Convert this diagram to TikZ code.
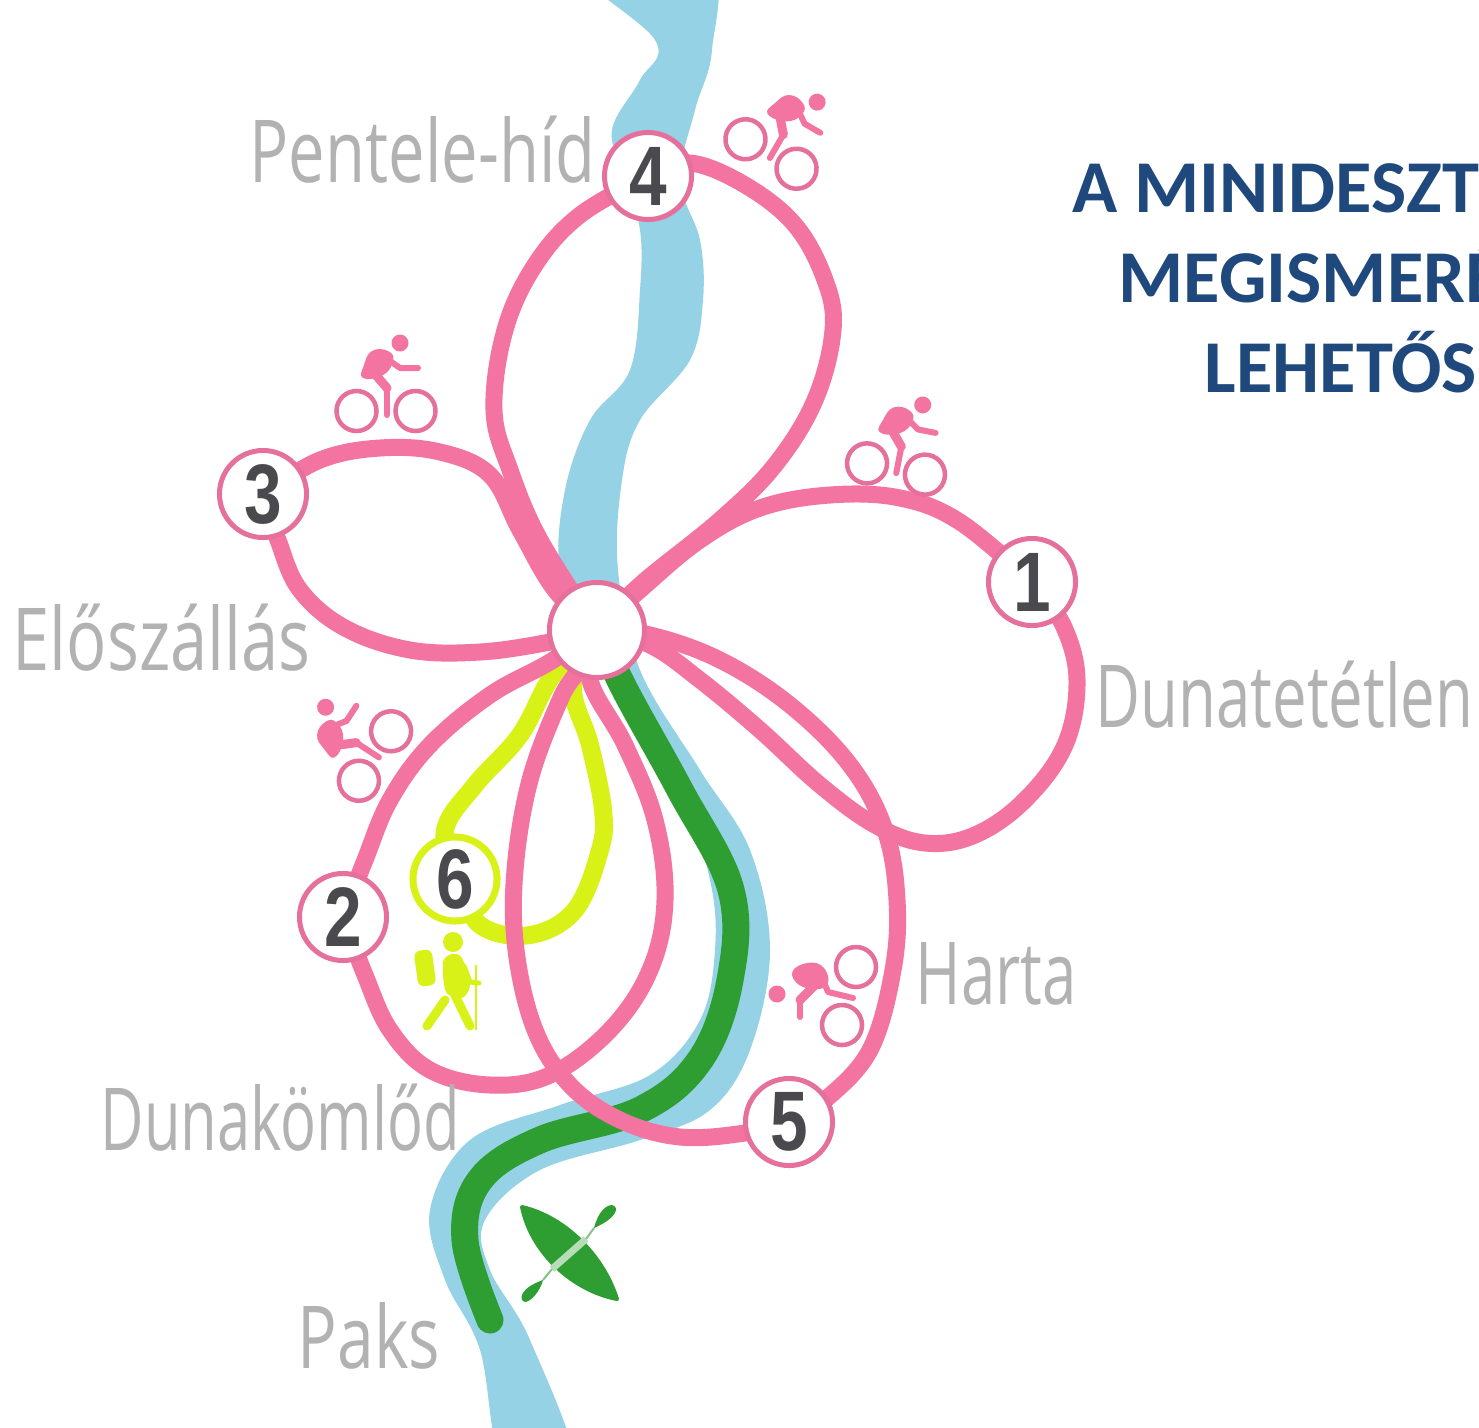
\documentclass[tikz,border=0pt]{standalone}
\usepackage{fontspec}
\setmainfont{Open Sans}
\newfontfamily\labfont{Open Sans}
\newfontfamily\digfont[FakeStretch=0.8]{Liberation Sans}
\newfontfamily\titlefont{Carlito}
\pgfdeclarelayer{riverl}\pgfdeclarelayer{greenl}\pgfdeclarelayer{yellowl}\pgfdeclarelayer{pinkl}
\pgfsetlayers{riverl,greenl,yellowl,pinkl,main}
\def\pxu{0.28453pt}
\definecolor{rpink}{RGB}{243,116,160}
\definecolor{ringpink}{RGB}{228,112,155}
\definecolor{rblue}{RGB}{150,210,230}
\definecolor{rgreen}{RGB}{46,158,50}
\definecolor{ryellow}{RGB}{216,242,24}
\definecolor{lblgray}{RGB}{178,178,178}
\definecolor{digitgray}{RGB}{74,74,78}
\definecolor{titleblue}{RGB}{31,73,125}
\tikzset{
  petal/.style={draw=rpink,line width=17*\pxu,line cap=round,line join=round},
  yline/.style={draw=ryellow,line width=18*\pxu,line cap=round},
  kayakline/.style={draw=rgreen,line width=27*\pxu,line cap=round,line join=round},
  stop/.style={circle,fill=white,draw=ringpink,line width=5*\pxu,minimum size=87*\pxu,inner sep=0pt,
     font=\digfont\bfseries\fontsize{24}{24}\selectfont,text=digitgray},
  ystop/.style={stop,draw=ryellow,line width=7*\pxu,minimum size=84*\pxu},
  hubst/.style={circle,fill=white,draw=ringpink,line width=5*\pxu,minimum size=95*\pxu,inner sep=0pt},
  place/.style={anchor=base west,inner sep=0pt,text=lblgray,font=\labfont\fontsize{24.7}{24.7}\selectfont\addfontfeature{FakeStretch=#1}},
  headline/.style={anchor=base west,inner sep=0pt,text=titleblue,font=\titlefont\bfseries\fontsize{21.2}{21.2}\selectfont},
  wheel/.style={draw=ringpink,line width=4.5*\pxu},
  limb/.style={draw=rpink,line width=6*\pxu,line cap=round,line join=round},
  thigh/.style={draw=rpink,line width=9*\pxu,line cap=round,line join=round},
  curve/.style={smooth,tension=.62},
  hikerlimb/.style={draw=ryellow,line width=9*\pxu,line cap=round},
}
\newcommand{\cyclistat}[3]{%
  \begin{scope}[shift={(#1,#2)},rotate=#3]
    \draw[wheel] (-29.5,0) circle[radius=20];
    \draw[wheel] (29.5,0) circle[radius=20];
    \fill[rpink] (14,-68) circle[radius=8.5];
    \fill[rpink] plot[smooth cycle,tension=.8] coordinates {(-23,-33) (-22,-46) (-14,-60) (2,-60) (7,-50) (-3,-36)};
    \draw[thigh] (-12,-38) -- (1,-23);
    \draw[limb] (1,-23) -- (1,4);
    \draw[limb] (4,-50) -- (14,-43) -- (32,-43);
  \end{scope}}
\begin{document}
\begin{tikzpicture}[x=0.01cm,y=-0.01cm]
\useasboundingbox (0,0) rectangle (1479,1427);
\clip (0,0) rectangle (1479,1427);
% stops
\node[hubst] (hub) at (597,630) {};
\node[stop] (n1) at (1032,582) {1};
\node[stop] (n2) at (343,917) {2};
\node[stop] (n3) at (263,494) {3};
\node[stop] (n4) at (648,176) {4};
\node[stop] (n5) at (789,1122) {5};
\node[ystop] (n6) at (455,879) {6};
% river
\begin{pgfonlayer}{riverl}
\fill[white] (0,0) rectangle (1479,1427);
\fill[rblue] plot[smooth cycle,tension=.6] coordinates {
  (570,-40) (655,40) (640,80) (612,130) (625,180) (640,230) (640,290) (630,370) (590,420) (565,490) (560,570)
  (590,640) (615,680) (680,790) (710,880) (715,950) (700,1020) (650,1075) (560,1105) (470,1140) (430,1210) (445,1280) (480,1350) (505,1470)
  (575,1470) (530,1340) (490,1270) (485,1220) (540,1170) (640,1140) (710,1110) (750,1050) (770,950) (750,850) (700,770) (640,670)
  (618,570) (622,480) (640,420) (690,360) (703,300) (700,240) (680,180) (695,110) (712,50) (706,-40)};
\end{pgfonlayer}
% kayak route
\begin{pgfonlayer}{greenl}
\draw[kayakline] plot[curve] coordinates {(hub.center) (625,690) (680,790) (731,890) (730,980) (700,1060) (640,1110) (540,1140) (480,1180) (465,1240) (490,1320)};
\end{pgfonlayer}
% hiking loop
\begin{pgfonlayer}{yellowl}
\draw[yline] plot[curve] coordinates {(hub.center) (553,675) (520,735) (475,785) (445,830) (n6.center)};
\draw[yline] plot[curve] coordinates {(n6.center) (480,925) (530,935) (575,910) (600,850) (603,810) (590,745) (573,685) (hub.center)};
\end{pgfonlayer}
% petals
\begin{pgfonlayer}{pinkl}
\draw[petal] plot[curve] coordinates {(hub.center) (540,540) (510,470) (494,410) (505,330) (535,265) (580,215) (n4.center)};
\draw[petal] plot[curve] coordinates {(n4.center) (690,163) (745,185) (795,225) (825,280) (833,330) (815,400) (775,465) (720,520) (640,585) (hub.center)};
\draw[petal] plot[curve] coordinates {(hub.center) (555,590) (520,530) (490,475) (440,452) (380,448) (320,460) (n3.center)};
\draw[petal] plot[curve] coordinates {(n3.center) (278,540) (300,590) (345,628) (410,650) (480,652) (550,642) (hub.center)};
\draw[petal] plot[curve] coordinates {(hub.center) (640,590) (700,540) (760,508) (830,495) (900,498) (960,522) (n1.center)};
\draw[petal] plot[curve] coordinates {(n1.center) (1063,625) (1077,680) (1065,745) (1025,800) (975,835) (925,843) (875,825) (820,785) (760,730) (700,680) (650,645) (hub.center)};
\draw[petal] plot[curve] coordinates {(hub.center) (650,635) (720,660) (790,705) (850,765) (885,830) (897,900) (893,970) (870,1050) (825,1100) (n5.center)};
\draw[petal] plot[curve] coordinates {(n5.center) (745,1133) (680,1137) (620,1120) (570,1085) (535,1030) (516,950) (515,870) (530,780) (560,700) (578,670) (hub.center)};
\draw[petal] plot[curve] coordinates {(hub.center) (550,662) (490,695) (430,745) (390,800) (365,860) (n2.center)};
\draw[petal] plot[curve] coordinates {(n2.center) (365,975) (390,1030) (430,1070) (490,1085) (550,1075) (610,1030) (650,970) (665,900) (655,820) (625,745) (590,680) (hub.center)};
\end{pgfonlayer}
% place names
\node[place=0.75] (pentele) at (249,182) {Pentele-híd};
\node[place=0.77] (eloszallas) at (12,670) {Előszállás};
\node[place=0.71] (dunatetetlen) at (1095,727) {Dunatetétlen};
\node[place=0.71] (harta) at (915,1004) {Harta};
\node[place=0.687] (dunakomlod) at (100,1150) {Dunakömlőd};
\node[place=0.76] (paks) at (297,1368) {Paks};
% heading (cut by the picture edge)
\node[headline] (t1) at (1072,212) {A MINIDESZT};
\node[headline] (t2) at (1118,302) {MEGISMERÉ};
\node[headline] (t3) at (1204,392) {LEHETŐS};
% cyclists
\cyclistat{771}{154}{-30}
\cyclistat{386}{411}{0}
\cyclistat{896}{469}{-11}
\cyclistat{375}{756}{57}
\draw[wheel] (856,967) circle[radius=20];
\draw[wheel] (842,1025) circle[radius=20];
\fill[rpink] (777,994) circle[radius=8.5];
\fill[rpink] plot[smooth cycle,tension=.8] coordinates {(792,975) (803,964) (822,966) (827,985) (806,988)};
\draw[thigh] (815,985) -- (800,1000);
\draw[limb] (800,1000) -- (800,1017);
\draw[limb] (821,975) -- (828,992) -- (853,998);
% hiker
\fill[ryellow] (453,942) circle[radius=10];
\fill[ryellow,rounded corners=1.8pt,rotate around={8:(425,968)}] (416,950) rectangle (434,986);
\fill[ryellow] plot[smooth cycle,tension=.5] coordinates {(443,962) (452,954) (462,958) (470,985) (462,998) (446,992)};
\draw[hikerlimb] (450,985) -- (470,1026);
\draw[hikerlimb] (445,1000) -- (427,1026);
\draw[ryellow,line width=5*\pxu,line cap=round] (464,966) -- (470,982) -- (479,983);
\draw[ryellow,line width=2.5*\pxu] (476,965) -- (476,1030);
% kayak
\filldraw[rgreen,line width=4*\pxu,line join=round] (522,1207) .. controls (565,1217) and (603,1255) .. (617,1299) .. controls (575,1291) and (532,1255) .. (522,1207) -- cycle;
\draw[rgreen!35!white,line width=7*\pxu] (586,1239) -- (552,1269);
\draw[rgreen!60!white,line width=2*\pxu] (594,1228) -- (586,1239) (552,1269) -- (543,1280);
\fill[rgreen] (594,1228) .. controls (598,1212) and (606,1205) .. (612,1205) .. controls (620,1207) and (617,1218) .. (594,1228) -- cycle;
\fill[rgreen] (543,1280) .. controls (540,1292) and (530,1302) .. (525,1302) .. controls (518,1300) and (520,1288) .. (543,1280) -- cycle;
\end{tikzpicture}
\end{document}
